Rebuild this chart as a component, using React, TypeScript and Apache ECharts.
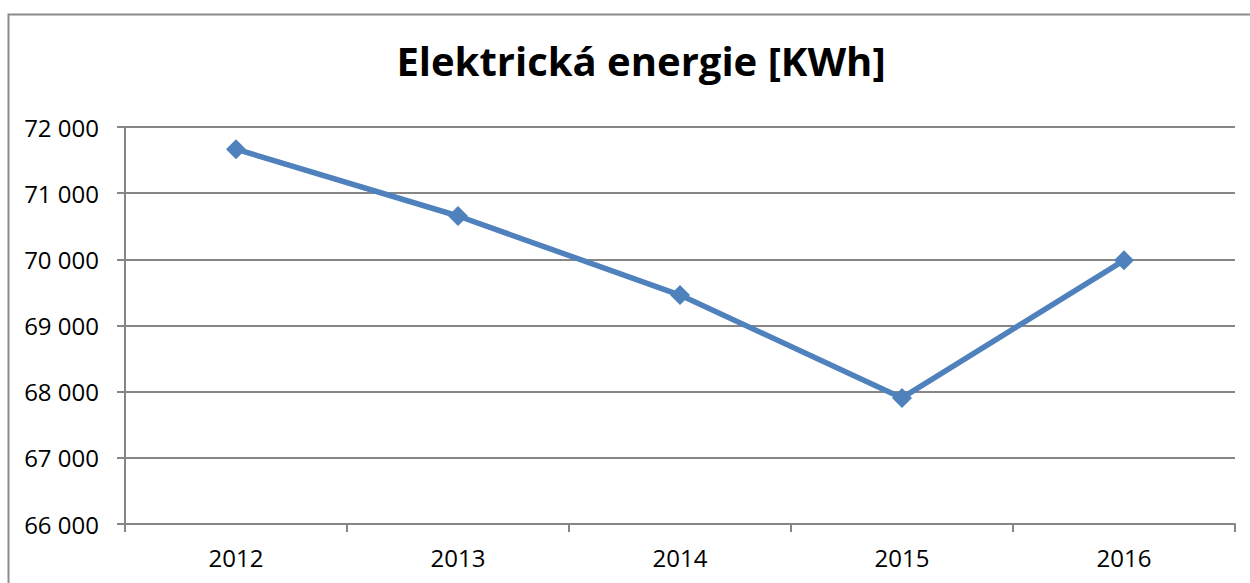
import React, { useEffect, useRef } from "react";
import * as echarts from "echarts";

const title = "Elektrická energie [KWh]";
const years = ["2012", "2013", "2014", "2015", "2016"];
const energy = [71665, 70655, 69460, 67905, 69985];
const yMin = 66000;
const yMax = 72000;
const yStep = 1000;

const fmt = (v: number) => {
  const s = String(Math.round(v));
  return s.replace(/\B(?=(\d{3})+(?!\d))/g, " ");
};

export default function App() {
  const ref = useRef<HTMLDivElement>(null);
  useEffect(() => {
    if (!ref.current) return;
    const chart = echarts.init(ref.current, undefined, { renderer: "svg" });
    const font = "'Open Sans', 'Noto Sans', sans-serif";
    chart.setOption({
      animation: false,
      backgroundColor: "#ffffff",
      title: {
        text: title,
        left: 636,
        textAlign: "center",
        top: 35,
        textStyle: {
          fontFamily: font,
          fontWeight: "bold",
          fontSize: 40,
          color: "#000000",
        },
      },
      graphic: [
        {
          type: "rect",
          shape: { x: 8.5, y: 14.5, width: 1260, height: 600 },
          style: { fill: "none", stroke: "#8c8c8c", lineWidth: 2 },
          silent: true,
        },
      ],
      grid: { left: 125, top: 127, right: 15, bottom: 59, containLabel: false },
      xAxis: {
        type: "category",
        data: years,
        boundaryGap: true,
        axisLine: { lineStyle: { color: "#868686", width: 2 } },
        axisTick: { show: true, length: 8, lineStyle: { color: "#868686", width: 2 } },
        axisLabel: { fontFamily: font, fontSize: 24, color: "#000000", margin: 21 },
        splitLine: { show: false },
      },
      yAxis: {
        type: "value",
        min: yMin,
        max: yMax,
        interval: yStep,
        axisLine: { show: true, lineStyle: { color: "#868686", width: 2 } },
        axisTick: { show: true, length: 8, lineStyle: { color: "#868686", width: 2 } },
        axisLabel: {
          fontFamily: font,
          fontSize: 24,
          color: "#000000",
          margin: 26,
          formatter: (v: number) => fmt(v),
        },
        splitLine: { show: true, lineStyle: { color: "#868686", width: 2 } },
      },
      series: [
        {
          type: "line",
          data: energy,
          symbol: "diamond",
          symbolSize: 20,
          showSymbol: true,
          lineStyle: { color: "#4F81BD", width: 5.5 },
          itemStyle: { color: "#4F81BD" },
        },
      ],
    });
    return () => chart.dispose();
  }, []);
  return (
    <div
      ref={ref}
      style={{ position: "fixed", left: 0, top: 0, width: 1250, height: 583 }}
    />
  );
}
